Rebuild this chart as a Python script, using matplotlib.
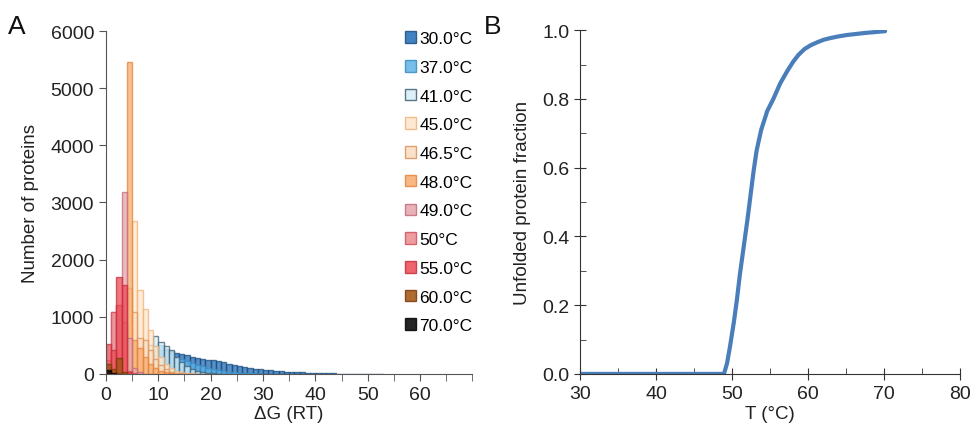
import matplotlib
matplotlib.use("Agg")
import matplotlib.pyplot as plt
from matplotlib.patches import Patch
from matplotlib.ticker import MultipleLocator
import numpy as np

plt.rcParams['font.family'] = ['Liberation Sans', 'DejaVu Sans']

# histogram data: counts per 1 RT bin, starting at first_bin
labels = ['30.0°C', '37.0°C', '41.0°C', '45.0°C', '46.5°C', '48.0°C',
          '49.0°C', '50°C', '55.0°C', '60.0°C', '70.0°C']
first_bin = [8, 7, 6, 4, 3, 2, 0, 0, 0, 0, 0]
counts_30 = [60, 250, 420, 440, 400, 360, 340, 330, 300, 280, 260, 250, 240, 220, 200,
             180, 160, 140, 120, 105, 90, 80, 70, 60, 50, 45, 40, 35, 30, 26, 22, 18,
             15, 12, 10, 8, 7, 6, 5, 4, 3, 3, 2, 2, 2]
counts_37 = [40, 200, 480, 500, 420, 350, 300, 260, 220, 190, 160, 130, 110, 90, 70,
             55, 42, 32, 24, 18, 13, 9, 6, 4, 3, 2]
counts_41 = [60, 300, 500, 670, 560, 490, 420, 300, 200, 130, 80, 50, 30, 18, 10, 6, 3, 2]
counts_45 = [600, 2680, 1470, 1130, 760, 480, 300, 180, 100, 55, 30, 15, 8, 4, 2]
counts_46 = [300, 1500, 1080, 620, 600, 420, 260, 150, 80, 40, 20, 10, 5, 2]
counts_48 = [100, 700, 5450, 600, 450, 300, 180, 100, 50, 25, 12, 6]
counts_49 = [150, 1080, 1200, 3180, 620, 100, 30]
counts_50 = [250, 1080, 1200, 900, 50, 10]
counts_55 = [520, 420, 1700, 1550, 40]
counts_60 = [170, 80, 280, 30]
counts_70 = [60, 20, 5]
all_counts = [counts_30, counts_37, counts_41, counts_45, counts_46, counts_48,
              counts_49, counts_50, counts_55, counts_60, counts_70]

face_colors = ['#1f6db5', '#5fb3e6', '#d7eef6', '#fde6cc', '#fbdcc0', '#f6ac6e',
               '#e3a5ad', '#eb8d92', '#ec4a55', '#a0520f', '#000000']
edge_colors = ['#1a4d80', '#3a8cc4', '#3d5f73', '#f0b27a', '#d9925a', '#e8823a',
               '#c56b78', '#d1505a', '#c62d3a', '#7a3b08', '#000000']

# unfolded fraction curve
temps = [30, 40, 48.9, 49.3, 49.7, 50.2, 50.6, 51.0, 51.5, 52.0, 52.4, 52.8, 53.2,
         53.8, 54.6, 55.4, 56.3, 57.2, 58.0, 58.7, 59.5, 60.3, 61.2, 62.0, 62.9,
         64.0, 65.1, 67.5, 70.1]
unfolded = [0.0, 0.0, 0.0, 0.03, 0.08, 0.15, 0.215, 0.29, 0.37, 0.45, 0.52, 0.59,
            0.65, 0.71, 0.765, 0.80, 0.845, 0.88, 0.908, 0.928, 0.945, 0.956, 0.965,
            0.972, 0.977, 0.982, 0.986, 0.992, 0.997]

fig = plt.figure(figsize=(9.72, 4.39), dpi=100)
axA = fig.add_axes([0.109, 0.146, 0.377, 0.781])
axB = fig.add_axes([0.597, 0.146, 0.391, 0.783])

spine_col = '#555555'
txt_col = '#222222'

for cnt, fb, fc, ec in zip(all_counts, first_bin, face_colors, edge_colors):
    x = np.arange(fb, fb + len(cnt))
    axA.bar(x, cnt, width=1, align='edge', color=fc, edgecolor=ec,
            linewidth=1.0, alpha=0.75)

axA.set_xlim(0, 70)
axA.set_ylim(0, 6000)
axA.xaxis.set_minor_locator(MultipleLocator(5))
axA.yaxis.set_major_locator(MultipleLocator(1000))
axA.set_xticks([0, 10, 20, 30, 40, 50, 60])
for s in ['top', 'right']:
    axA.spines[s].set_visible(False)
for s in ['left', 'bottom']:
    axA.spines[s].set_color(spine_col)
axA.tick_params(which='both', colors=spine_col, labelcolor=txt_col, labelsize=14,
                direction='out', length=5)
axA.set_xlabel('ΔG (RT)', fontsize=13.5, color=txt_col, labelpad=2)
axA.set_ylabel('Number of proteins', fontsize=13.5, color=txt_col, labelpad=8)

handles = [Patch(facecolor=fc, edgecolor=ec, alpha=0.85)
           for fc, ec in zip(face_colors, edge_colors)]
axA.legend(handles, labels, loc='upper right', bbox_to_anchor=(1.02, 1.02),
           frameon=False, fontsize=12.5, handlelength=0.65, handleheight=0.65,
           handletextpad=0.2, labelspacing=0.79, borderaxespad=0)

axB.plot(temps, unfolded, color='#4a7ebb', lw=3, solid_capstyle='round')
axB.set_xlim(30, 80)
axB.set_ylim(0, 1.0)
axB.xaxis.set_major_locator(MultipleLocator(10))
axB.xaxis.set_minor_locator(MultipleLocator(5))
axB.yaxis.set_major_locator(MultipleLocator(0.2))
axB.yaxis.set_minor_locator(MultipleLocator(0.1))
axB.yaxis.set_major_formatter(matplotlib.ticker.FormatStrFormatter('%.1f'))
for s in ['top', 'right']:
    axB.spines[s].set_visible(False)
for s in ['left', 'bottom']:
    axB.spines[s].set_color('#333333')
axB.tick_params(which='major', direction='inout', length=9, colors='#333333',
                labelcolor=txt_col, labelsize=14)
axB.tick_params(which='minor', direction='in', length=4, colors='#333333')
axB.set_xlabel('T (°C)', fontsize=13.5, color=txt_col, labelpad=2)
axB.set_ylabel('Unfolded protein fraction', fontsize=13.5, color=txt_col, labelpad=8)

fig.text(0.008, 0.922, 'A', fontsize=19, color='#111111')
fig.text(0.498, 0.922, 'B', fontsize=19, color='#111111')

fig.savefig('out.png', dpi=100)
